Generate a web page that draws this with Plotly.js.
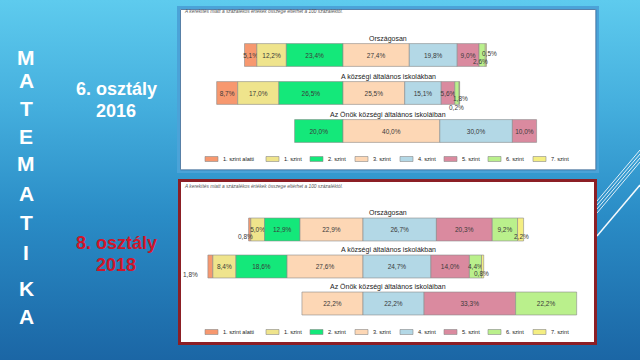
<!DOCTYPE html>
<html><head><meta charset="utf-8">
<script src="https://cdn.plot.ly/plotly-3.0.1.min.js"></script>
<style>
html,body{margin:0;padding:0;width:640px;height:360px;overflow:hidden;
background:linear-gradient(180deg,#5ecbee 0%,#44aedd 30%,#2a8cc6 60%,#1b66a5 100%);}
#chart{width:640px;height:360px;}
</style></head><body><div id="chart"></div>
<script>
// ---------------- DATA ----------------
const levels = ['1. szint alatti','1. szint','2. szint','3. szint','4. szint','5. szint','6. szint','7. szint'];
const groups = ['Országosan','A községi általános iskolákban','Az Önök községi általános iskoláiban'];
// 6. osztály 2016 (percent by level)
const g6_orszagosan = [5.1, 12.2, 23.4, 27.4, 19.8, 9.0, 2.6, 0.5];
const g6_kozsegi    = [8.7, 17.0, 26.5, 25.5, 15.1, 5.6, 1.8, 0.2];
const g6_onok       = [0, 0, 20.0, 40.0, 30.0, 10.0, 0, 0];
// 8. osztály 2018 (percent by level)
const g8_orszagosan = [0.8, 5.0, 12.9, 22.9, 26.7, 20.3, 9.2, 2.2];
const g8_kozsegi    = [1.8, 8.4, 18.6, 27.6, 24.7, 14.0, 4.4, 0.8];
const g8_onok       = [0, 0, 0, 22.2, 22.2, 33.3, 22.2, 0];
// level at which the bars are aligned (minimum standard)
const g6_alignLevel = 3;
const g8_alignLevel = 4;
const noteText = 'A kerekítés miatt a százalékos értékek összege eltérhet a 100 százaléktól.';

// ---------------- STYLE ----------------
const levelColors = ['#f7986f','#efe48c','#14e87a','#fdd7b5','#b3d8e6','#da8a9f','#baf08c','#f4ee82'];
const W = 640, H = 360;
const px = x => x / W, py = y => 1 - y / H;
const fmt = v => v.toFixed(1).replace('.', ',') + '%';
const labelFont = {family:'Liberation Sans, Arial, sans-serif', size:6.5, color:'#3a3a3a'};
// placement of labels for very thin segments: [row, level, dx, dy]
const smallTop = [[0,6,-2,7],[0,7,4,-1],[1,6,4,5],[1,7,-3,14]];
const smallBot = [[0,0,-4,7],[0,7,1,7],[1,0,-20,8],[1,7,-1,7]];

const traces = [], annotations = [], shapes = [];

function buildChart(rows, alignIdx, xa, ya, width, small) {
  const cum = rows.map(r => -r.slice(0, alignIdx).reduce((a, b) => a + b, 0));
  const starts = [];
  levels.forEach((lv, j) => {
    const vals = rows.map(r => r[j]);
    const base = cum.slice();
    starts.push(base);
    rows.forEach((r, i) => { cum[i] += r[j]; });
    traces.push({
      type:'bar', orientation:'h', name:lv,
      y:[0,1,2], x: vals.map(v => v > 0 ? v : null), base: base,
      xaxis:xa, yaxis:ya, width: width,
      marker:{color:levelColors[j], line:{color:'#8a8a8a', width:0.6}},
      text: vals.map(v => v >= 3 ? fmt(v) : ''),
      textposition:'inside', insidetextanchor:'middle', constraintext:'none', textangle:0,
      insidetextfont: labelFont, textfont: labelFont,
      cliponaxis:false, hoverinfo:'skip', showlegend:false
    });
  });
  small.forEach(([i, j, dx, dy]) => {
    const v = rows[i][j];
    annotations.push({
      xref: xa, yref: ya, x: starts[j][i] + v / 2, y: i,
      text: fmt(v), showarrow:false, xshift: dx, yshift: -dy,
      font: labelFont
    });
  });
}
buildChart([g6_orszagosan, g6_kozsegi, g6_onok], g6_alignLevel, 'x', 'y', 0.6, smallTop);
buildChart([g8_orszagosan, g8_kozsegi, g8_onok], g8_alignLevel, 'x2', 'y2', 0.62, smallBot);

// group titles above bars
groups.forEach((g, i) => {
  annotations.push({xref:'paper', yref:'y', x:px(388), y:i, yshift:16, text:g, showarrow:false,
    font:{family:'Liberation Sans, Arial, sans-serif', size:7, color:'#222'}});
  annotations.push({xref:'paper', yref:'y2', x:px(388), y:i, yshift:17, text:g, showarrow:false,
    font:{family:'Liberation Sans, Arial, sans-serif', size:7, color:'#222'}});
});

// decorative lines and panels
[[150,201,1,0.85],[154,205,1,0.85],[158,209,1,0.85],[162,213,1,0.85],[185,236,1.5,0.95]].forEach(([a,b,w,o]) => {
  shapes.push({type:'line', xref:'paper', yref:'paper', x0:px(640), y0:py(a), x1:px(597), y1:py(b),
    line:{color:'rgba(255,255,255,' + o + ')', width:w}, layer:'below'});
});
shapes.push({type:'rect', xref:'paper', yref:'paper', x0:px(178.5), x1:px(597.5), y0:py(7.5), y1:py(171.5),
  fillcolor:'#ffffff', line:{color:'#4ba3d8', width:3}, layer:'below'});
shapes.push({type:'rect', xref:'paper', yref:'paper', x0:px(180.5), x1:px(595.8), y0:py(9.5), y1:py(169.8),
  fillcolor:'rgba(0,0,0,0)', line:{color:'#2d5f90', width:0.8}, layer:'below'});
shapes.push({type:'rect', xref:'paper', yref:'paper', x0:px(179.5), x1:px(595.5), y0:py(180.5), y1:py(343.5),
  fillcolor:'#ffffff', line:{color:'#8c1f25', width:3}, layer:'below'});

// notes
[12, 186].forEach(y => {
  annotations.push({xref:'paper', yref:'paper', x:px(182), y:py(y), xanchor:'left', yanchor:'middle', showarrow:false,
    text:'<i>' + noteText + '</i>', font:{family:'Liberation Sans, Arial, sans-serif', size:4.8, color:'#555'}});
});

// legends
const legX = [205, 266, 310, 355, 400, 444, 488, 533];
[159, 332].forEach(ly => {
  levels.forEach((lv, j) => {
    shapes.push({type:'rect', xref:'paper', yref:'paper', x0:px(legX[j]), x1:px(legX[j] + 13), y0:py(ly - 2.5), y1:py(ly + 2.5),
      fillcolor:levelColors[j], line:{color:'#8a8a8a', width:0.6}});
    annotations.push({xref:'paper', yref:'paper', x:px(legX[j] + 16), y:py(ly), xanchor:'left', yanchor:'middle',
      showarrow:false, text:lv, font:{family:'Liberation Sans, Arial, sans-serif', size:5.6, color:'#222'}});
  });
});

// left side titles
const word = 'MATEMATIKA'.split('');
const letterY = [57, 81, 108, 136, 164, 193, 222, 253, 288, 316];
word.forEach((c, k) => {
  annotations.push({xref:'paper', yref:'paper', x:px(26), y:py(letterY[k]), xanchor:'center', yanchor:'middle',
    showarrow:false, text:'<b>' + c + '</b>', font:{family:'Liberation Sans, Arial, sans-serif', size:21, color:'#ffffff'}});
});
const sideLabels = [
  ['6. osztály', 89, '#ffffff'], ['2016', 111, '#ffffff'],
  ['8. osztály', 243, '#d0162a'], ['2018', 265, '#d0162a']
];
sideLabels.forEach(([t, y, col]) => {
  annotations.push({xref:'paper', yref:'paper', x:px(116), y:py(y), xanchor:'center', yanchor:'middle',
    showarrow:false, text:'<b>' + t + '</b>', font:{family:'Liberation Sans, Arial, sans-serif', size:18, color:col}});
});

const layout = {
  width:W, height:H, margin:{l:0,r:0,t:0,b:0},
  paper_bgcolor:'rgba(0,0,0,0)', plot_bgcolor:'rgba(0,0,0,0)',
  barmode:'overlay', showlegend:false,
  xaxis:{domain:[0,1], range:[-343/2.42, 297/2.42], visible:false, fixedrange:true, anchor:'y'},
  yaxis:{domain:[py(150), py(36)], range:[2.5,-0.5], visible:false, fixedrange:true, anchor:'x'},
  xaxis2:{domain:[0,1], range:[-363/2.75, 277/2.75], visible:false, fixedrange:true, anchor:'y2'},
  yaxis2:{domain:[py(322), py(211)], range:[2.5,-0.5], visible:false, fixedrange:true, anchor:'x2'},
  shapes:shapes, annotations:annotations
};
Plotly.newPlot('chart', traces, layout, {displayModeBar:false, staticPlot:true});
</script></body></html>
